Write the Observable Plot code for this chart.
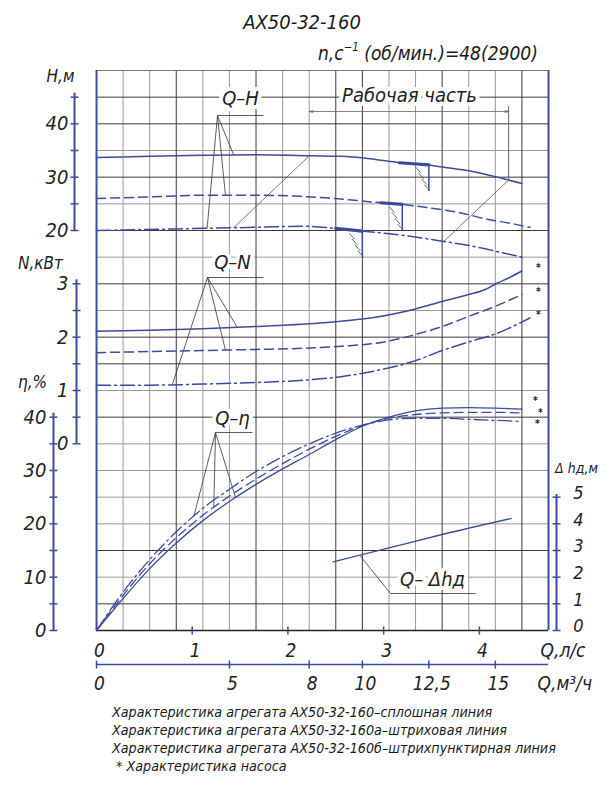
<!DOCTYPE html>
<html><head><meta charset="utf-8">
<script src="https://cdn.jsdelivr.net/npm/d3@7"></script>
<script src="https://cdn.jsdelivr.net/npm/@observablehq/plot@0.6"></script>
<style>
body{margin:0;background:#fff;}
#wrap{position:relative;width:614px;height:787px;overflow:hidden;font-family:"DejaVu Sans Condensed","Liberation Sans Narrow","DejaVu Sans",sans-serif;font-style:italic;color:#1a1a1a;}
.t{position:absolute;white-space:nowrap;line-height:1;}
sup{font-size:60%;vertical-align:0;position:relative;top:-0.75em;}
#cap div{height:18px;}
</style></head><body>
<div id="wrap">
  <div class="t" style="left:0;width:604px;text-align:center;top:12px;font-size:20px;">АХ50-32-160</div>
  <div class="t" style="left:318px;top:44px;font-size:19px;">n,c<sup>−1</sup> (об/мин.)=48(2900)</div>
  <div id="chart" style="position:absolute;left:0;top:62px;"></div>
  <div class="t" id="cap" style="left:112px;top:705px;font-size:14.2px;">
    <div>Характеристика агрегата АХ50-32-160–сплошная линия</div>
    <div>Характеристика агрегата АХ50-32-160а–штриховая линия</div>
    <div>Характеристика агрегата АХ50-32-160б–штрихпунктирная линия</div>
    <div>&nbsp;* Характеристика насоса</div>
  </div>
</div>
<script>
// ---------- data (x = Q, m³/h) ----------
const qhSolid = [[0,33.7],[2,33.9],[4,34.1],[6,34.2],[8,34.0],[9.2,33.9],[10.2,33.5],[11.4,32.7],[12.5,32.3],[13,31.9],[14,31.2],[15,30.1],[16,28.8]];
const qhDash  = [[0,26.0],[2,26.3],[4,26.6],[6,26.6],[7.7,26.4],[9.2,25.9],[10.7,25.2],[11.5,24.9],[12,24.6],[13,23.9],[13.7,23.3],[14.7,22.1],[15.5,21.4],[16.3,20.6]];
const qhDot   = [[0,20.0],[2,20.2],[4,20.4],[6,20.6],[7.7,20.8],[9,20.4],[10,19.9],[11,19.4],[11.8,18.9],[13,18.0],[14.2,17.0],[15.2,15.9],[16,15.0]];

const qnSolid = [[0,2.11],[2,2.13],[4,2.16],[6,2.2],[7.7,2.24],[9.2,2.3],[10,2.34],[12,2.53],[13,2.67],[14,2.8],[14.6,2.89],[15.1,3.02],[15.5,3.11],[16,3.24]];
const qnDash  = [[0,1.71],[2,1.73],[4,1.75],[6,1.77],[7.7,1.79],[9.2,1.83],[10.7,1.9],[12,2.05],[13,2.2],[14,2.39],[15,2.58],[16,2.8]];
const qnDot   = [[0,1.1],[2,1.1],[4,1.12],[6,1.15],[8,1.2],[9.2,1.26],[10.5,1.37],[12,1.56],[13,1.75],[14,1.91],[15,2.06],[16.3,2.36]];

const qeSolid = [[0,0],[1,6.0],[2,11.6],[3,16.4],[4,20.6],[5,24.2],[6,27.4],[7,30.3],[8,33.0],[9,35.8],[10,38.3],[11,40.0],[12,41.2],[13,41.7],[14,41.8],[15,41.7],[16,41.5]];
const qeDash  = [[0,0],[1,6.6],[2,12.5],[3,17.4],[4,21.6],[5,25.2],[6,28.4],[7,31.3],[8,34.0],[9,36.4],[10,38.4],[11,39.8],[12,40.5],[13,40.8],[14,40.9],[15,40.9],[16,40.8]];
const qeDot   = [[0,0],[1,7.2],[2,13.3],[3,18.5],[4,22.9],[5,26.5],[6,29.8],[7,32.6],[8,35.0],[9,37.0],[10,38.5],[11,39.5],[12,39.8],[13,39.8],[14,39.6],[15,39.4],[16,39.2]];

const qdh = [[8.9,2.57],[11,3.1],[13,3.6],[15.6,4.2]];

// axis ticks / labels
const hTicks = [20,25,30,35,40,45], hLabels = [20,30,40];
const nTicks = [0,0.5,1,1.5,2,2.5,3], nLabels = [0,1,2,3];
const eTicks = [0,5,10,15,20,25,30,35,40], eLabels = [0,10,20,30,40];
const dTicks = [0,1,2,3,4,5];
const lsTicks = [0,1,2,3,4];
const m3Ticks = [0,5,8,10,12.5,15], m3Labels = ["0","5","8","10","12,5","15"];
const gridCols = d3.range(1,17), darkCols = [3,6,9,10,13,16];
const gridRows = d3.range(1,21), darkRows = [1,3,8,10,11,13,15,17,19,20];
// working range and optimum-zone markers (Q, m³/h)
const workRange = [8, 15.5];
const zones = [{c:"s", a:11.4, b:12.5},{c:"a", a:10.7, b:11.5},{c:"b", a:9.0, b:10.0}];

// ---------- layout ----------
const kx = 452/17, ky = 560/21;
const X = px => (px-96)/kx, Y = py => (630-py)/ky;
const rH = h => 15 + (h-20)/5, rN = n => 7 + n*2, rE = e => e/5, rD = d => d;
const BL = "#3b4c9e", INK = "#222", GR = "#999", DK = "#3a3a3a";
const DASH = "9,5", DOT = "14,4,2,4";
const at = (arr, q) => { for (let i=1;i<arr.length;i++){ const [x0,y0]=arr[i-1],[x1,y1]=arr[i]; if(q<=x1) return y0+(y1-y0)*(q-x0)/(x1-x0);} return arr[arr.length-1][1]; };
const H = {s:qhSolid, a:qhDash, b:qhDot};
const line = (data, f, dash, sw=1.5) => Plot.line(data, {x:d=>d[0], y:d=>f(d[1]), stroke:BL, strokeWidth:sw, strokeDasharray:dash, curve:"monotone-x"});
const label = (x, y, text, o={}) => Plot.text([0], {x:()=>x, y:()=>y, text:()=>text, fontSize:20, fill:INK, stroke:"white", strokeWidth:8, ...o});

// leaders: apex, underline end, curve endpoints
const leaders = [
  {ax:X(217), ay:Y(115), ux:X(263), ends:[[qhSolid,rH,5.16],[qhDash,rH,4.85],[qhDot,rH,4.16]]},
  {ax:X(207), ay:Y(277), ux:X(263), ends:[[qnSolid,rN,5.29],[qnDash,rN,4.85],[qnDot,rN,2.85]]},
  {ax:X(215), ay:Y(432), ux:X(252), ends:[[qeDot,rE,3.66],[qeDash,rE,4.41],[qeSolid,rE,5.23]]},
  {ax:X(390), ay:Y(593), ux:X(475), ends:[[qdh,rD,9.9]]}
];
const leaderLinks = leaders.flatMap(l => [{x1:l.ax,y1:l.ay,x2:l.ux,y2:l.ay}, ...l.ends.map(([arr,f,q]) => ({x1:l.ax,y1:l.ay,x2:q,y2:f(at(arr,q))}))]);

const hatch = zones.flatMap(z => { const r = rH(at(H[z.c], z.b)); return d3.range(4).map(k => ({x1:z.b-0.5+0.11*k, y1:r-0.08-0.22*k, x2:z.b-0.5+0.11*k+0.2, y2:r-0.08-0.22*k-0.22})); });
const zoneRules = zones.map(z => { const r = rH(at(H[z.c], z.b)); return {x:z.b, y1:r, y2:r-1}; });
const diagonals = [
  {x1:5.16, y1:rH(at(qhDot,5.16)), x2:workRange[0], y2:rH(at(qhSolid,workRange[0]))},
  {x1:13.06, y1:rH(at(qhDot,13.06)), x2:workRange[1], y2:rH(at(qhSolid,workRange[1]))}
];
// pump-characteristic asterisks next to the curve ends (small pixel nudges keep the η trio apart)
const ends = [[qnSolid,rN,-3,0],[qnDash,rN,-3,0],[qnDot,rN,-3,0],[qeSolid,rE,-8,-3],[qeDash,rE,0,2],[qeDot,rE,2,-1]]
  .map(([a,f,dy,dx]) => ({y:f(a[a.length-1][1]), dy, dx}));

const tickLen = 4/kx;
const vAxis = (px, ticks, f, labels, lblPx, size=20) => [
  Plot.ruleX([0], {x:()=>X(px), y1:f(ticks[0]), y2:f(ticks[ticks.length-1])+0.15, stroke:BL, strokeWidth:2}),
  Plot.link(ticks, {x1:X(px)-tickLen, x2:X(px)+tickLen, y1:d=>f(d), y2:d=>f(d), stroke:BL, strokeWidth:1.5}),
  Plot.text(labels, {x:X(lblPx), y:d=>f(d), text:d=>String(d), textAnchor:"end", fontSize:size, fill:INK})
];

const chart = Plot.plot({
  width:614, height:633, marginLeft:96, marginRight:66, marginTop:8, marginBottom:65,
  x:{domain:[0,17], axis:null}, y:{domain:[0,21], axis:null},
  style:{fontFamily:'"DejaVu Sans Condensed","Liberation Sans Narrow","DejaVu Sans",sans-serif', fontStyle:"italic", background:"white", overflow:"visible"},
  marks:[
    // grid
    Plot.ruleX(gridCols.filter(c=>!darkCols.includes(c)), {stroke:GR, strokeWidth:1}),
    Plot.ruleY(gridRows.filter(r=>!darkRows.includes(r)), {stroke:GR, strokeWidth:1}),
    Plot.ruleX(darkCols, {stroke:DK, strokeWidth:1}),
    Plot.ruleY(darkRows, {stroke:DK, strokeWidth:1}),
    Plot.ruleY([21], {stroke:"#777", strokeWidth:1}),
    Plot.ruleY([0], {stroke:INK, strokeWidth:1.3}),
    Plot.ruleX([0,17], {stroke:BL, strokeWidth:2}),
    // labels with white halo (cut grid)
    label(X(240), Y(98), "Q–H"),
    label(X(409), Y(95), "Рабочая часть"),
    label(X(232), Y(262), "Q–N"),
    label(X(232), Y(418), "Q–η"),
    label(X(432), Y(579), "Q– Δhд"),
    // working range dimension
    Plot.arrow([0,1], {x1:(workRange[0]+workRange[1])/2, x2:i=>workRange[i], y1:Y(111), y2:Y(111), stroke:"#666", strokeWidth:0.8, headLength:7, headAngle:30}),
    Plot.ruleX([workRange[1]], {y1:Y(106), y2:rH(at(qhSolid,workRange[1])), stroke:"#555", strokeWidth:0.9}),
    Plot.link(diagonals, {x1:"x1", y1:"y1", x2:"x2", y2:"y2", stroke:"#555", strokeWidth:0.8}),
    // leaders
    Plot.link(leaderLinks, {x1:"x1", y1:"y1", x2:"x2", y2:"y2", stroke:"#333", strokeWidth:0.8}),
    // optimum zone markers
    ...zones.map(z => line(H[z.c].filter(d=>d[0]>=z.a && d[0]<=z.b), rH, null, 3.2)),
    Plot.ruleX(zoneRules, {x:"x", y1:"y1", y2:"y2", stroke:BL, strokeWidth:1.5}),
    Plot.link(hatch, {x1:"x1", y1:"y1", x2:"x2", y2:"y2", stroke:"#555", strokeWidth:0.9}),
    // curves
    line(qhSolid, rH, null), line(qhDash, rH, DASH), line(qhDot, rH, DOT),
    line(qnSolid, rN, null), line(qnDash, rN, DASH), line(qnDot, rN, DOT),
    line(qeSolid, rE, null, 1.3), line(qeDash, rE, DASH, 1.3), line(qeDot, rE, DOT, 1.3),
    line(qdh, rD, null, 1.3),
    ...ends.map(e => Plot.text([e], {x:16.62, y:"y", text:()=>"*", dy:e.dy, dx:e.dx, fontSize:10, fill:INK, fontWeight:"bold"})),
    // left axes
    ...vAxis(74, hTicks, rH, hLabels, 68),
    ...vAxis(76, nTicks, rN, nLabels, 68),
    ...vAxis(53, eTicks, rE, eLabels, 46),
    Plot.text(["H,м"], {x:X(60), y:Y(76), fontSize:17, fill:INK}),
    Plot.text(["N,кВт"], {x:X(40), y:Y(263), fontSize:17, fill:INK}),
    Plot.text(["η,%"], {x:X(32), y:Y(382), fontSize:17, fill:INK}),
    // right Δh axis
    Plot.ruleX([0], {x:()=>X(556), y1:0, y2:5.1, stroke:BL, strokeWidth:2}),
    Plot.link(dTicks, {x1:X(556)-tickLen, x2:X(556)+tickLen, y1:d=>d, y2:d=>d, stroke:BL, strokeWidth:1.5}),
    Plot.text(dTicks, {x:X(578), y:d=>rD(d), text:d=>String(d), dy:-4, fontSize:18, fill:INK}),
    Plot.text(["Δ hд,м"], {x:X(576), y:Y(468), fontSize:14, fill:INK}),
    // bottom Q, l/s axis
    Plot.link(lsTicks.slice(1), {x1:d=>d*3.6, x2:d=>d*3.6, y1:-4/ky, y2:4/ky, stroke:BL, strokeWidth:1.5}),
    Plot.text(lsTicks, {x:d=>d*3.6, y:Y(650), text:d=>String(d), dx:3, fontSize:19, fill:INK}),
    Plot.text(["Q,л/с"], {x:X(540), y:Y(650), textAnchor:"start", fontSize:19, fill:INK}),
    // bottom Q, m³/h axis
    Plot.ruleY([Y(664)], {x1:0, x2:17, stroke:BL, strokeWidth:1.5}),
    Plot.link(m3Ticks, {x1:d=>d, x2:d=>d, y1:Y(664)-4/ky, y2:Y(664)+4/ky, stroke:BL, strokeWidth:1.5}),
    Plot.text(m3Ticks, {x:d=>d, y:Y(683), text:(d,i)=>m3Labels[i], dx:3, fontSize:19, fill:INK}),
    Plot.text(["Q,м³/ч"], {x:X(537), y:Y(683), textAnchor:"start", fontSize:19, fill:INK})
  ]
});
document.getElementById("chart").appendChild(chart);
</script>
</body></html>
